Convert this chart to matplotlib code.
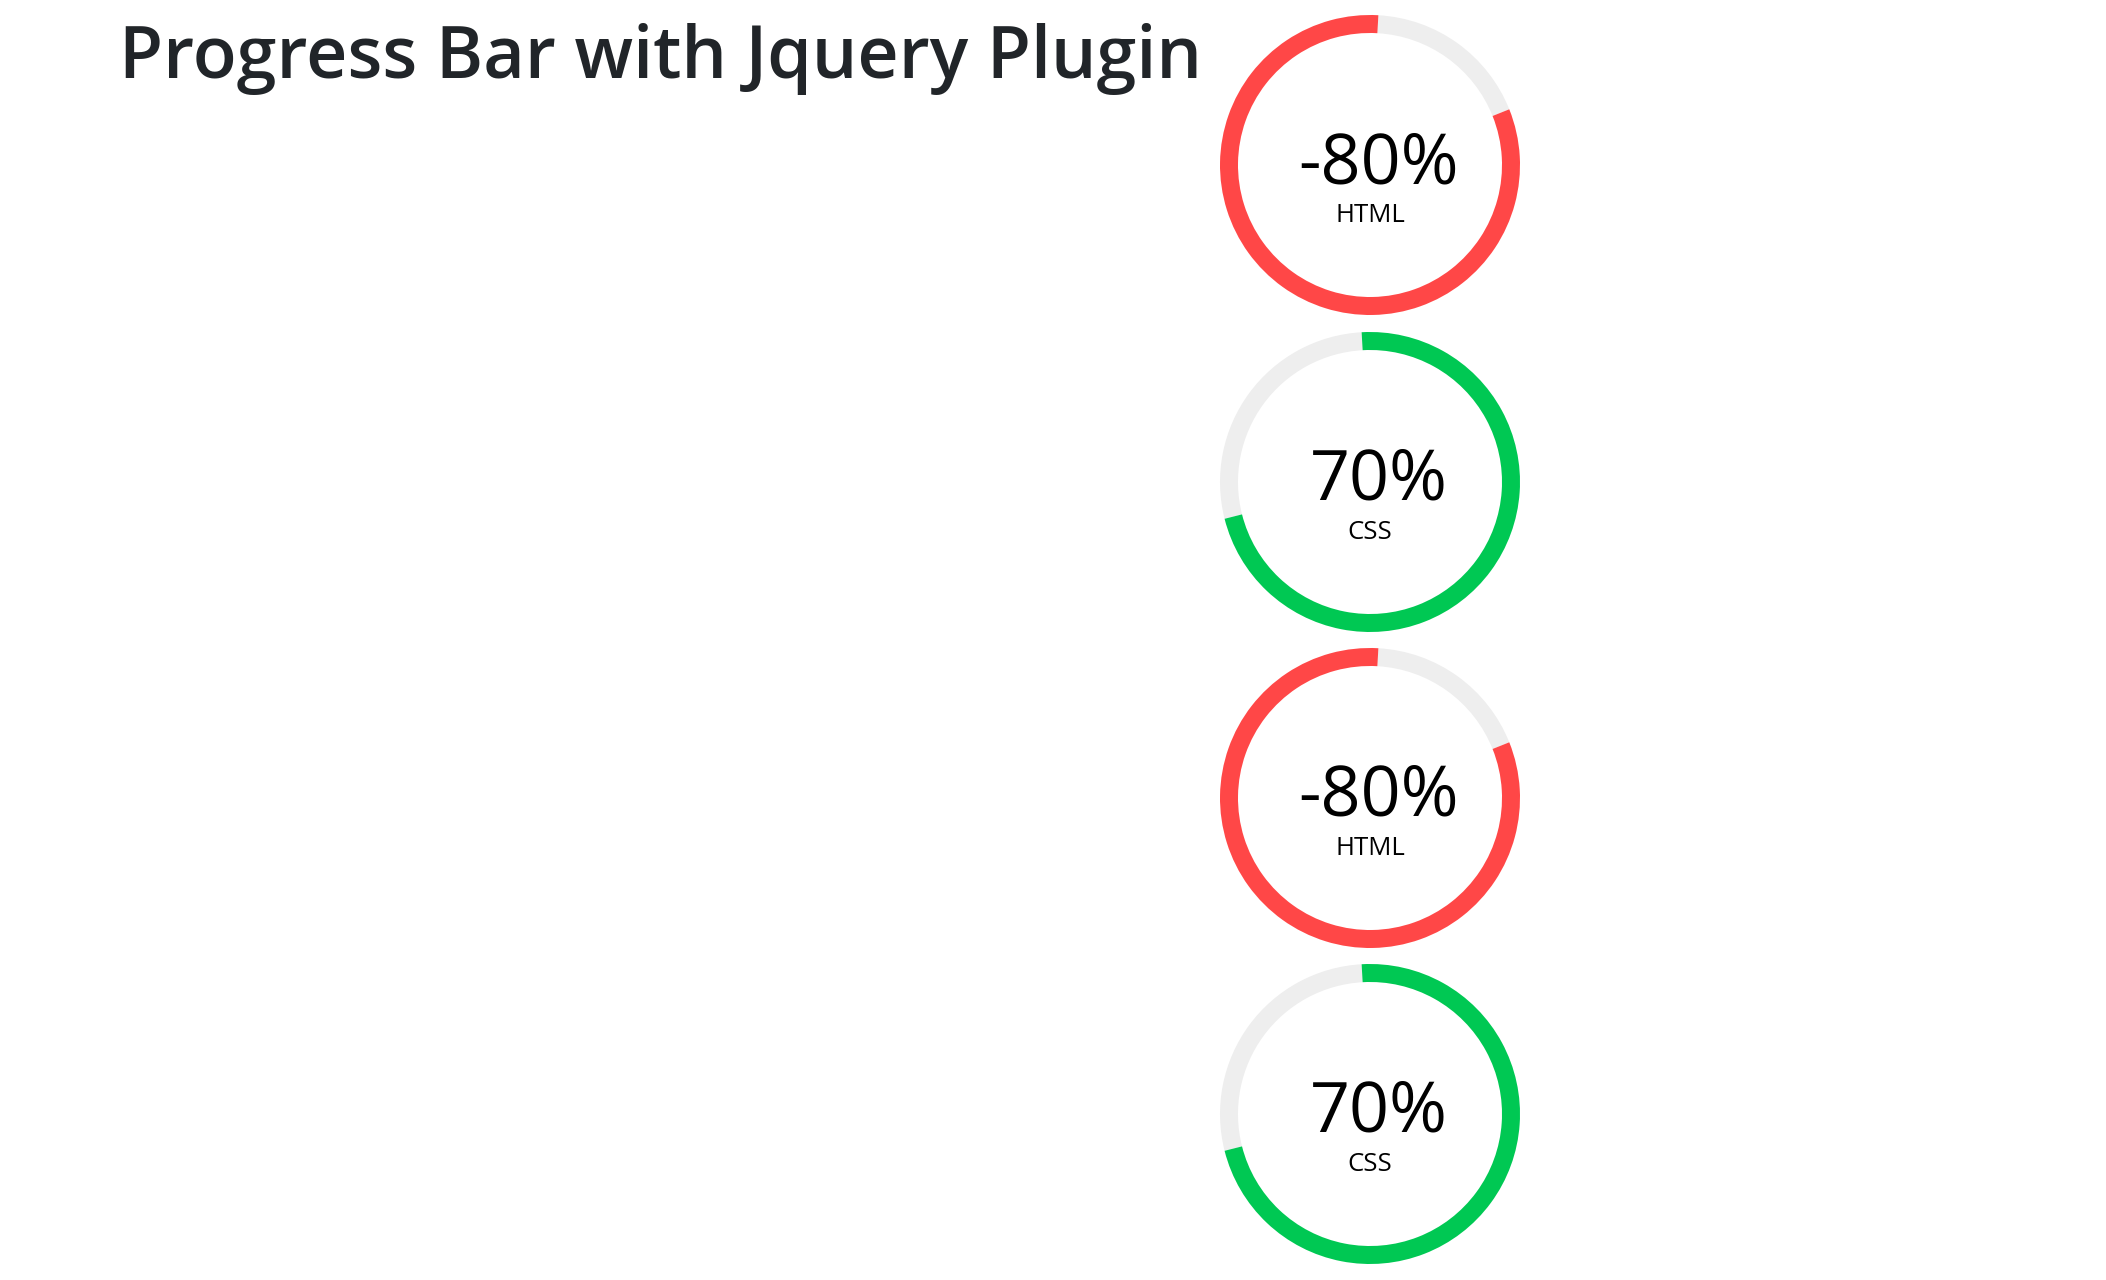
import numpy as np
import matplotlib
matplotlib.use('Agg')
import matplotlib.pyplot as plt
from matplotlib.patches import Wedge

TITLE = 'Progress Bar with Jquery Plugin'
values = [-80, 70, -80, 70]
labels = ['HTML', 'CSS', 'HTML', 'CSS']
bar_colors = ['#ff4747', '#00c853', '#ff4747', '#00c853']
track_color = '#eeeeee'

W, H = 2106, 1280
cx = 1370
centers_y = [165, 482, 798, 1114]
r_out = 150
ring = 18
start_off = 3.2   # plugin starts a little past 12 o'clock
extra = 7         # arcs overshoot a bit in the screenshot


def draw_ring(ax, x, y, value, color, label):
    sweep = abs(value) / 100 * 360 + extra
    # angles clockwise from top, converted to matplotlib degrees
    if value >= 0:
        a0 = -start_off
        a1 = a0 + sweep
    else:
        a1 = start_off
        a0 = a1 - sweep
    th0, th1 = 90 - a1, 90 - a0
    ax.add_patch(Wedge((x, y), r_out, th1, th0 + 360, width=ring,
                       facecolor=track_color, edgecolor='none'))
    ax.add_patch(Wedge((x, y), r_out, th0, th1, width=ring,
                       facecolor=color, edgecolor='none'))
    ax.text(x + 9, y - 18, '{}%'.format(value), fontsize=50.5, family='Open Sans',
            color='black', ha='center', va='baseline')
    ax.text(x, y - 57, label, fontsize=18.5, family='Open Sans',
            color='black', ha='center', va='baseline')


fig = plt.figure(figsize=(W / 100, H / 100), dpi=100)
ax = fig.add_axes([0, 0, 1, 1])
ax.set_xlim(0, W)
ax.set_ylim(0, H)
ax.set_aspect('equal')
ax.axis('off')

ax.text(119, H - 78, TITLE, fontsize=51.7, family='Open Sans', weight='semibold',
        color='#212529', ha='left', va='baseline')

for v, lab, c, y in zip(values, labels, bar_colors, centers_y):
    draw_ring(ax, cx, H - y, v, c, lab)

fig.savefig('out.png', dpi=100)
